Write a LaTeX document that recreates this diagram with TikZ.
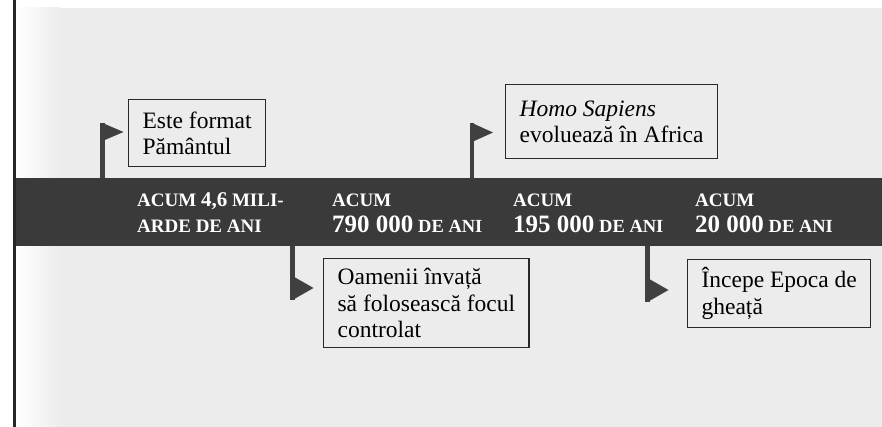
\documentclass[tikz,border=0pt]{standalone}
\usepackage{fontspec}
\setmainfont{Liberation Serif}
\usetikzlibrary{positioning}
\definecolor{PaperGray}{RGB}{236,236,236}
\definecolor{BandGray}{RGB}{58,58,58}
\definecolor{FlagGray}{RGB}{64,64,64}
\definecolor{FrameGray}{RGB}{40,40,40}
\newcommand{\yrnum}[1]{{\fontsize{25}{25}\selectfont #1}}
\newcommand{\yrsc}[1]{{\fontsize{18.5}{18.5}\selectfont #1}}
\tikzset{
  evbox/.style={draw=FrameGray,line width=1.2pt,anchor=north west,align=left,
    inner xsep=14pt,inner ysep=8pt,font=\fontsize{23.5}{26.5}\selectfont},
  datelabel/.style={text=white,anchor=west,align=left,inner sep=0pt,
    font=\bfseries\fontsize{19}{26}\selectfont},
  pole/.style={draw=FlagGray,line width=4.5pt}
}

\begin{document}
\begin{tikzpicture}[x=1pt,y=-1pt]
  \useasboundingbox (0,0) rectangle (882,427);
  % paper
  \fill[white] (0,0) rectangle (882,427);
  \fill[PaperGray] (16,8) rectangle (882,427);
  \shade[left color=white,right color=PaperGray] (16,8) rectangle (60,427);
  \draw[line width=3pt,black!85] (14,0) -- (14,427);
  % the band
  \fill[BandGray] (16,178) rectangle (882,246);
  \node[datelabel] (d1) at (137,213) {ACUM {\fontsize{21}{21}\selectfont 4,6} MILI-\\ARDE DE ANI};
  \node[datelabel] (d2) at (332,213) {ACUM\\\yrnum{790 000} \yrsc{DE ANI}};
  \node[datelabel] (d3) at (513,213) {ACUM\\\yrnum{195 000} \yrsc{DE ANI}};
  \node[datelabel] (d4) at (695,213) {ACUM\\\yrnum{20 000} \yrsc{DE ANI}};
  % flags
  \coordinate (p1) at (102.5,178);
  \coordinate (t1) at (102.5,123);
  \coordinate (p2) at (472,178);
  \coordinate (t2) at (472,123);
  \coordinate (p3) at (292.5,246);
  \coordinate (t3) at (292.5,300);
  \coordinate (p4) at (647.5,246);
  \coordinate (t4) at (647.5,302);
  \draw[pole] (p1) -- (t1);
  \draw[pole] (p2) -- (t2);
  \draw[pole] (p3) -- (t3);
  \draw[pole] (p4) -- (t4);
  \fill[FlagGray] (t1) -- ++(21,9) -- ++(-21,9) -- cycle;
  \fill[FlagGray] (t2) -- ++(21,9.5) -- ++(-21,9.5) -- cycle;
  \fill[FlagGray] (t3) -- ++(21,-12) -- ++(-21,-12) -- cycle;
  \fill[FlagGray] (t4) -- ++(21,-12) -- ++(-21,-12) -- cycle;
  % events
  \node[evbox,minimum height=67pt] (earth) at (128,99) {Este format\\Pământul};
  \node[evbox,minimum height=74pt] (sapiens) at (505,84) {\textit{Homo Sapiens}\\evoluează în Africa};
  \node[evbox,minimum height=89pt] (fire) at (323,258) {Oamenii învață\\să folosească focul\\controlat};
  \node[evbox,minimum height=67pt] (ice) at (687,259) {Începe Epoca de\\gheață};
\end{tikzpicture}
\end{document}
